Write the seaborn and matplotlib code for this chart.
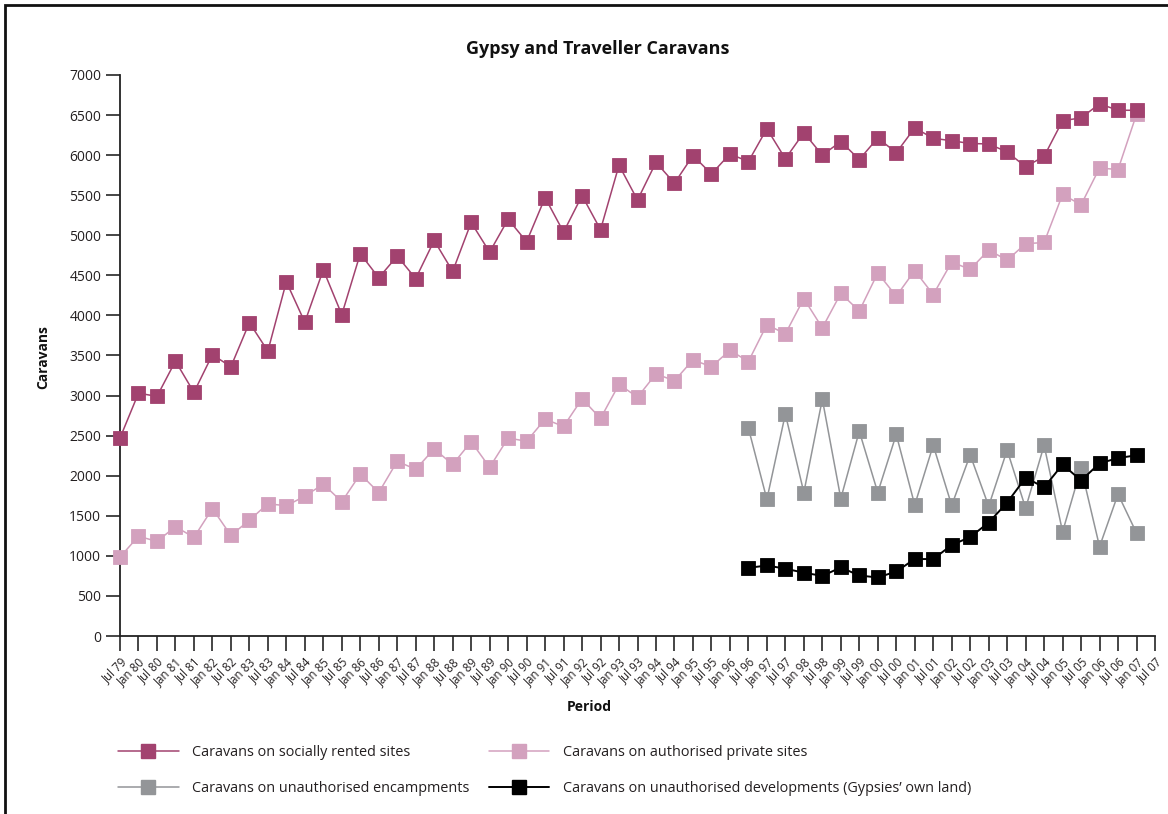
import seaborn as sns
import matplotlib.pyplot as plt
import matplotlib.patches as patches
from matplotlib.lines import Line2D
import pandas as pd
import numpy as np

# Etiquetas del eje x (semestres)
periods = ["Jul 79", "Jan 80", "Jul 80", "Jan 81", "Jul 81", "Jan 82", "Jul 82", "Jan 83", "Jul 83",
           "Jan 84", "Jul 84", "Jan 85", "Jul 85", "Jan 86", "Jul 86", "Jan 87", "Jul 87", "Jan 88",
           "Jul 88", "Jan 89", "Jul 89", "Jan 90", "Jul 90", "Jan 91", "Jul 91", "Jan 92", "Jul 92",
           "Jan 93", "Jul 93", "Jan 94", "Jul 94", "Jan 95", "Jul 95", "Jan 96", "Jul 96", "Jan 97",
           "Jul 97", "Jan 98", "Jul 98", "Jan 99", "Jul 99", "Jan 00", "Jul 00", "Jan 01", "Jul 01",
           "Jan 02", "Jul 02", "Jan 03", "Jul 03", "Jan 04", "Jul 04", "Jan 05", "Jul 05", "Jan 06",
           "Jul 06", "Jan 07", "Jul 07"]

# Series (Jul 79 .. Jan 07)
socially_rented = [2470, 3030, 2990, 3430, 3040, 3510, 3360, 3910, 3555, 4420, 3915, 4570, 4010, 4770,
                   4470, 4740, 4460, 4935, 4550, 5160, 4790, 5200, 4920, 5470, 5040, 5495, 5070, 5875,
                   5440, 5910, 5650, 5995, 5765, 6015, 5920, 6330, 5955, 6280, 6000, 6170, 5945, 6215,
                   6030, 6340, 6210, 6180, 6145, 6140, 6040, 5855, 5985, 6430, 6465, 6640, 6560, 6560]
authorised_private = [985, 1245, 1180, 1365, 1230, 1590, 1255, 1445, 1650, 1625, 1745, 1895, 1675, 2020,
                      1790, 2180, 2080, 2335, 2140, 2425, 2105, 2470, 2430, 2705, 2615, 2960, 2715, 3140,
                      2980, 3270, 3185, 3445, 3360, 3565, 3425, 3885, 3770, 4210, 3845, 4275, 4055, 4530,
                      4240, 4560, 4260, 4665, 4575, 4815, 4690, 4895, 4910, 5510, 5380, 5840, 5820, 6510]
# Solo desde Jul 96
encampments = [np.nan] * 34 + [2595, 1705, 2770, 1790, 2955, 1715, 2555, 1790, 2515, 1635, 2380,
                               1630, 2260, 1620, 2320, 1595, 2380, 1300, 2095, 1115, 1770, 1285]
developments = [np.nan] * 34 + [850, 880, 840, 790, 750, 855, 755, 730, 805, 960, 960,
                                1135, 1235, 1415, 1665, 1975, 1855, 2140, 1940, 2155, 2220, 2255]

labels = ["Caravans on socially rented sites",
          "Caravans on authorised private sites",
          "Caravans on unauthorised encampments",
          "Caravans on unauthorised developments (Gypsies\u2019 own land)"]
colors = ["#A2426F", "#D3A1BE", "#939598", "#000000"]
widths = [1.1, 1.1, 1.1, 1.4]
zorders = [4, 3, 5, 6]

df = pd.DataFrame({"idx": np.arange(len(socially_rented)),
                   labels[0]: socially_rented,
                   labels[1]: authorised_private,
                   labels[2]: encampments,
                   labels[3]: developments})

sns.set_style("ticks")
plt.rcParams['font.family'] = ['Open Sans', 'DejaVu Sans']
text_color = "#231F20"

fig = plt.figure(figsize=(11.68, 8.14), dpi=100)
ax = fig.add_axes([120 / 1168, 1 - 636 / 814, 1035 / 1168, 561 / 814])

for lab, col, lw, z in zip(labels, colors, widths, zorders):
    sns.lineplot(data=df, x="idx", y=lab, ax=ax, color=col, linewidth=lw, marker="s",
                 markersize=9.5, markeredgecolor=col, markeredgewidth=0.6, clip_on=False, zorder=z)

ax.set_xlim(0, len(periods) - 1)
ax.set_ylim(0, 7000)
ax.set_yticks(np.arange(0, 7001, 500))
ax.set_xticks(np.arange(len(periods)))
ax.set_xticklabels(periods, rotation=45, ha="right", va="top", rotation_mode="anchor",
                   fontsize=8.3, color=text_color)
ax.tick_params(axis="y", labelsize=10, labelcolor=text_color, length=10, width=1.2, direction="out")
ax.tick_params(axis="x", length=11, width=1.2, direction="out", pad=3)
ax.set_xlabel("")
ax.set_ylabel("")
sns.despine(ax=ax)
for s in ["left", "bottom"]:
    ax.spines[s].set_linewidth(1.3)
    ax.spines[s].set_color("#222222")

fig.text(598 / 1168, 1 - 49 / 814, "Gypsy and Traveller Caravans", ha="center", va="center",
         fontsize=13, fontweight="bold", color="#111111")
fig.text(43 / 1168, 1 - 357 / 814, "Caravans", rotation=90, ha="center", va="center",
         fontsize=10, fontweight="bold", color="#111111")
fig.text(589 / 1168, 1 - 707 / 814, "Period", ha="center", va="center",
         fontsize=10, fontweight="bold", color="#111111")

# Leyenda
handles = [Line2D([0], [0], color=c, lw=w, marker="s", markersize=9.5,
                  markerfacecolor=c, markeredgecolor=c) for c, w in zip(colors, widths)]
order = [0, 2, 1, 3]
fig.legend([handles[i] for i in order], [labels[i] for i in order],
           loc="upper left", bbox_to_anchor=(105 / 1168, 1 - 732 / 814), ncol=2,
           frameon=False, fontsize=10.4, handlelength=4.2, handletextpad=0.95,
           columnspacing=1.3, labelspacing=1.45, labelcolor=text_color)

# Marco
fig.add_artist(patches.Rectangle((5 / 1168, -0.1), 1.2, 1.1 - 5 / 814,
                                 transform=fig.transFigure, fill=False, lw=2, ec="#111111"))

plt.savefig("out.png", dpi=100)
